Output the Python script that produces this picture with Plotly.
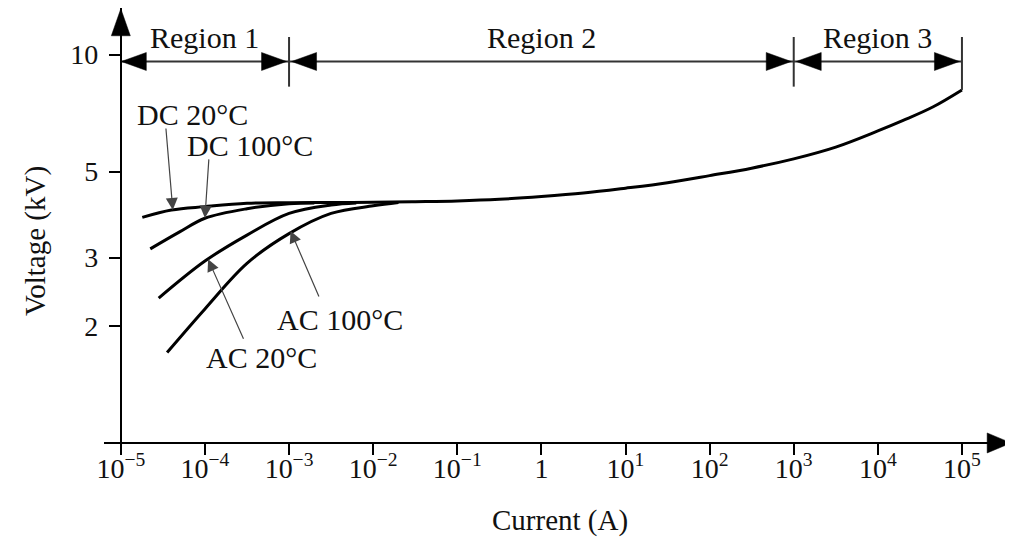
import math
import plotly.graph_objects as go

# ---------------- data ----------------
current_dc20 = [1.8e-5, 4e-5, 1e-4, 3.16e-4, 1e-3, 3.16e-3, 1e-2, 3.16e-2, 0.1, 0.316,
                1, 3.16, 10, 31.6, 100, 316, 1e3, 3.16e3, 1e4, 2e4, 4.5e4, 1e5]
voltage_dc20 = [3.81, 3.98, 4.06, 4.14, 4.155, 4.16, 4.165, 4.18, 4.20, 4.24,
                4.31, 4.40, 4.53, 4.68, 4.88, 5.10, 5.39, 5.78, 6.36, 6.77, 7.33, 8.11]

current_dc100 = [2.24e-5, 5e-5, 1e-4, 3.16e-4, 1e-3, 2e-3]
voltage_dc100 = [3.16, 3.495, 3.79, 4.01, 4.13, 4.148]

current_ac20 = [2.82e-5, 1e-4, 3.16e-4, 1e-3, 3.16e-3, 6.3e-3]
voltage_ac20 = [2.36, 2.94, 3.43, 3.90, 4.10, 4.15]

current_ac100 = [3.55e-5, 1e-4, 3.16e-4, 1e-3, 3.16e-3, 1e-2, 2e-2]
voltage_ac100 = [1.71, 2.214, 2.90, 3.46, 3.90, 4.08, 4.16]

region_bounds = [1e-5, 1e-3, 1e3, 1e5]
region_labels = ["Region 1", "Region 2", "Region 3"]

x_tick_vals = [1e-5, 1e-4, 1e-3, 1e-2, 1e-1, 1, 1e1, 1e2, 1e3, 1e4, 1e5]
x_tick_text = ["10<sup>−5</sup>", "10<sup>−4</sup>", "10<sup>−3</sup>", "10<sup>−2</sup>",
               "10<sup>−1</sup>", "1", "10<sup>1</sup>", "10<sup>2</sup>",
               "10<sup>3</sup>", "10<sup>4</sup>", "10<sup>5</sup>"]
y_tick_vals = [2, 3, 5, 10]
y_tick_text = ["2", "3", "5", "10"]

# ---------------- layout geometry ----------------
# (the page body adds an 8 px margin around the figure)
W, H = 1005, 532
ML, MR, MT, MB = 96, 1, 0, 85
X_RANGE = [-5.2, 5.595]
Y_RANGE = [-0.031, 1.120]
PW, PH = W - ML - MR, H - MT - MB
PXX = PW / (X_RANGE[1] - X_RANGE[0])   # px per decade (x)
PXY = PH / (Y_RANGE[1] - Y_RANGE[0])   # px per decade (y)

FONT = "Liberation Serif"
INK = "#111111"

bar_level = 9.6       # kV level of the region arrow bar
sep_top = 11.1
sep_bottom = 8.27


def triangle(tip_lx, tip_ly, direction, length_px, half_px):
    """Filled triangle (data units) with its tip at (10**tip_lx, 10**tip_ly)."""
    if direction in ("right", "left"):
        dx, dy = length_px / PXX, half_px / PXY
        s = -1 if direction == "right" else 1
        bx = tip_lx + s * dx
        xs = [tip_lx, bx, bx, tip_lx]
        ys = [tip_ly, tip_ly + dy, tip_ly - dy, tip_ly]
    else:
        dx, dy = half_px / PXX, length_px / PXY
        s = -1 if direction == "up" else 1
        by = tip_ly + s * dy
        xs = [tip_lx, tip_lx + dx, tip_lx - dx, tip_lx]
        ys = [tip_ly, by, by, tip_ly]
    return [10 ** v for v in xs], [10 ** v for v in ys]


def paper(px, py):
    """Page pixel position -> paper coordinates."""
    return (px - 8 - ML) / PW, (H - MB - (py - 8)) / PH


fig = go.Figure()

curve_style = dict(mode="lines", line=dict(color="black", width=3, shape="spline", smoothing=1.0),
                   hoverinfo="skip", showlegend=False)
fig.add_trace(go.Scatter(x=current_ac100, y=voltage_ac100, **curve_style))
fig.add_trace(go.Scatter(x=current_ac20, y=voltage_ac20, **curve_style))
fig.add_trace(go.Scatter(x=current_dc100, y=voltage_dc100, **curve_style))
fig.add_trace(go.Scatter(x=current_dc20, y=voltage_dc20, **curve_style))

# region separators
sx, sy = [], []
for b in region_bounds[1:]:
    bottom = voltage_dc20[-1] if b == region_bounds[-1] else sep_bottom
    sx += [b, b, None]
    sy += [sep_top, bottom, None]
fig.add_trace(go.Scatter(x=sx, y=sy, mode="lines", line=dict(color="#333333", width=2),
                         hoverinfo="skip", showlegend=False))

# region bar line
fig.add_trace(go.Scatter(x=[region_bounds[0], region_bounds[-1]], y=[bar_level, bar_level],
                         mode="lines", line=dict(color="#333333", width=2),
                         hoverinfo="skip", showlegend=False))

# arrow heads (region bar + axes)
tx, ty = [], []
gap = 2.5 / PXX
lb = math.log10(bar_level)
for i in range(len(region_bounds) - 1):
    l0 = math.log10(region_bounds[i])
    l1 = math.log10(region_bounds[i + 1])
    for (xx, yy) in [triangle(l0 + (gap if i > 0 else 0.5 / PXX), lb, "left", 25, 9),
                     triangle(l1 - gap, lb, "right", 25, 9)]:
        tx += xx + [None]
        ty += yy + [None]
for (xx, yy) in [triangle(-5, Y_RANGE[1] - 0.002, "up", 27, 9.5),
                 triangle(X_RANGE[1] - 0.01, 0, "right", 24, 10)]:
    tx += xx + [None]
    ty += yy + [None]
fig.add_trace(go.Scatter(x=tx, y=ty, mode="lines", fill="toself", fillcolor="black",
                         line=dict(color="black", width=0.5), hoverinfo="skip", showlegend=False))

annotations = []
# region labels
for i, lab in enumerate(region_labels):
    cx = (math.log10(region_bounds[i]) + math.log10(region_bounds[i + 1])) / 2
    annotations.append(dict(x=cx, y=1.043, xref="x", yref="y", text=lab, showarrow=False,
                            xanchor="center", yanchor="middle",
                            font=dict(family=FONT, size=30, color=INK)))

# curve labels
curve_labels = [("DC 20°C", -4.15, 0.845), ("DC 100°C", -3.466, 0.765),
                ("AC 20°C", -3.327, 0.22), ("AC 100°C", -2.396, 0.317)]
for txt, lx, ly in curve_labels:
    annotations.append(dict(x=lx, y=ly, xref="x", yref="y", text=txt, showarrow=False,
                            xanchor="center", yanchor="middle",
                            font=dict(family=FONT, size=30, color=INK)))

# pointer arrows (tip in log units, tail offset in px)
pointers = [(-4.382, 0.600, -7, -83), (-4.0, 0.5795, 4, -60),
            (-3.962, 0.473, 36, 81), (-2.982, 0.546, 29, 67)]
for lx, ly, ax, ay in pointers:
    annotations.append(dict(x=lx, y=ly, xref="x", yref="y", text="", showarrow=True,
                            ax=ax, ay=ay, arrowhead=2, arrowsize=2, arrowwidth=1.2,
                            arrowcolor="#444444", standoff=0))

# axis titles
yx, yy_ = paper(35, 241)
annotations.append(dict(x=yx, y=yy_, xref="paper", yref="paper", text="Voltage (kV)",
                        textangle=-90, showarrow=False, xanchor="center", yanchor="middle",
                        font=dict(family=FONT, size=29, color=INK)))
xx_, xy = paper(560, 520)
annotations.append(dict(x=xx_, y=xy, xref="paper", yref="paper", text="Current (A)",
                        showarrow=False, xanchor="center", yanchor="middle",
                        font=dict(family=FONT, size=29, color=INK)))

fig.update_layout(
    width=W, height=H,
    margin=dict(l=ML, r=MR, t=MT, b=MB, autoexpand=False),
    paper_bgcolor="white", plot_bgcolor="white",
    showlegend=False,
    annotations=annotations,
    xaxis=dict(type="log", range=X_RANGE, anchor="free",
               position=(0 - Y_RANGE[0]) / (Y_RANGE[1] - Y_RANGE[0]),
               showline=True, linecolor="black", linewidth=2,
               ticks="outside", ticklen=11, tickwidth=1.5, tickcolor="black",
               tickmode="array", tickvals=x_tick_vals, ticktext=x_tick_text,
               ticklabelstandoff=-11,
               tickfont=dict(family=FONT, size=28, color=INK),
               showgrid=False, zeroline=False),
    yaxis=dict(type="log", range=Y_RANGE, anchor="free",
               position=(-5 - X_RANGE[0]) / (X_RANGE[1] - X_RANGE[0]),
               showline=True, linecolor="black", linewidth=2,
               ticks="outside", ticklen=11, tickwidth=1.5, tickcolor="black",
               tickmode="array", tickvals=y_tick_vals, ticktext=y_tick_text,
               ticklabelstandoff=5,
               tickfont=dict(family=FONT, size=28, color=INK),
               showgrid=False, zeroline=False),
)

fig.write_html("out.html")
